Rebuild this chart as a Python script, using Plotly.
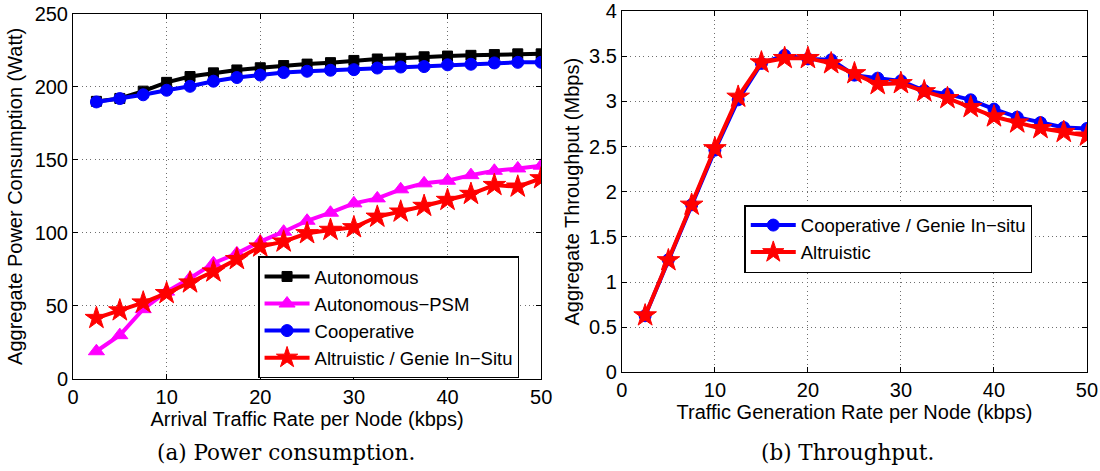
import plotly.graph_objects as go

# Traffic rate per node (kbps)
rate = [2.5, 5, 7.5, 10, 12.5, 15, 17.5, 20, 22.5, 25,
        27.5, 30, 32.5, 35, 37.5, 40, 42.5, 45, 47.5, 50]

# (a) Aggregate power consumption (Watt)
power_autonomous = [190, 192, 197, 203, 207, 209.5, 211.5, 213, 214.5, 215.5,
                    216.5, 218, 219, 219.5, 220.5, 221, 221.5, 222, 222.5, 222.5]
power_autonomous_psm = [19, 30, 47.8, 59.8, 69, 79.2, 86, 94, 100.8, 108.3,
                        113.8, 120.2, 123.6, 129.8, 133.9, 135.7, 139.5, 142.5, 144.1, 146]
power_cooperative = [189.6, 191.9, 194.5, 197.6, 200.3, 203.8, 206.3, 208, 209.7, 210.6,
                     211.3, 211.7, 212.8, 213.5, 213.8, 215, 215.4, 216.3, 216.7, 216.7]
power_altruistic = [41.7, 46.9, 52.3, 58.7, 66, 73.5, 82, 90.6, 94, 99.7,
                    102, 103.8, 111, 114.5, 118.4, 122.5, 126.6, 132.7, 131.6, 137.3]

# (b) Aggregate throughput (Mbps)
tp_cooperative = [0.627, 1.247, 1.855, 2.46, 3.017, 3.42, 3.51, 3.47, 3.46, 3.29,
                  3.257, 3.227, 3.12, 3.08, 3.017, 2.914, 2.825, 2.765, 2.71, 2.70]
tp_altruistic = [0.63, 1.24, 1.855, 2.48, 3.05, 3.43, 3.478, 3.478, 3.42, 3.31,
                 3.19, 3.20, 3.11, 3.035, 2.936, 2.832, 2.765, 2.703, 2.66, 2.62]

SANS = "Liberation Sans, Arial, Helvetica, sans-serif"
SERIF = "DejaVu Serif, serif"
FS = 20
LEG_FS = 18.5
LW = 4

fig = go.Figure()


def add(x, y, name, color, symbol, size, xa, ya, legend):
    fig.add_trace(go.Scatter(
        x=x, y=y, name=name, mode="lines+markers",
        line=dict(color=color, width=LW),
        marker=dict(symbol=symbol, size=size, color=color,
                    line=dict(color=color, width=1)),
        xaxis=xa, yaxis=ya, legend=legend,
    ))


add(rate, power_autonomous, "Autonomous", "#000000", "square", 10, "x", "y", "legend")
add(rate, power_autonomous_psm, "Autonomous\u2212PSM", "#ff00ff", "triangle-up", 14, "x", "y", "legend")
add(rate, power_cooperative, "Cooperative", "#0000ff", "circle", 12, "x", "y", "legend")
add(rate, power_altruistic, "Altruistic / Genie In\u2212Situ", "#ff0000", "star", 17, "x", "y", "legend")

add(rate, tp_cooperative, "Cooperative / Genie In\u2212situ", "#0000ff", "circle", 12, "x2", "y2", "legend2")
add(rate, tp_altruistic, "Altruistic", "#ff0000", "star", 17, "x2", "y2", "legend2")

axis_common = dict(
    automargin=False,
    showline=True, linecolor="black", linewidth=1, mirror="ticks",
    ticks="inside", ticklen=5, tickcolor="black", tickwidth=1,
    showgrid=True, gridcolor="#6e6e6e", gridwidth=1, griddash="1px,3.3px",
    zeroline=False, tickfont=dict(family=SANS, size=FS, color="black"),
)

legend_common = dict(
    xanchor="left", yanchor="top",
    bgcolor="white", bordercolor="black", borderwidth=1.5,
    font=dict(family=SANS, size=LEG_FS, color="black"),
    tracegroupgap=0, itemwidth=45,
)

fig.update_layout(
    width=1100, height=471,
    margin=dict(l=73, r=13.3, t=11, b=91.7),
    paper_bgcolor="white", plot_bgcolor="white",
    font=dict(family=SANS, size=FS, color="black"),
    xaxis=dict(axis_common, domain=[0, 0.4617], range=[0, 50], dtick=10,
               anchor="y",
               title=dict(text="Arrival Traffic Rate per Node (kbps)", standoff=2,
                          font=dict(family=SANS, size=FS))),
    yaxis=dict(axis_common, domain=[0, 0.9927], range=[0, 250], dtick=50,
               anchor="x",
               title=dict(text="Aggregate Power Consumption (Watt)", standoff=6,
                          font=dict(family=SANS, size=FS))),
    xaxis2=dict(axis_common, domain=[0.5413, 1], range=[0, 50], dtick=10,
                anchor="y2",
                title=dict(text="Traffic Generation Rate per Node (kbps)", standoff=2,
                           font=dict(family=SANS, size=FS))),
    yaxis2=dict(axis_common, domain=[0.0179, 1], range=[0, 4], dtick=0.5,
                anchor="x2",
                title=dict(text="Aggregate Throughput (Mbps)", standoff=4,
                           font=dict(family=SANS, size=FS))),
    legend=dict(legend_common, x=0.1825, y=0.333),
    legend2=dict(legend_common, x=0.662, y=0.4727),
    showlegend=True,
)

fig.add_annotation(text="(a) Power consumption.", xref="paper", yref="paper",
                   x=0.2099, y=-0.2007, showarrow=False,
                   xanchor="center", yanchor="middle",
                   font=dict(family=SERIF, size=21.5, color="black"))
fig.add_annotation(text="(b) Throughput.", xref="paper", yref="paper",
                   x=0.764, y=-0.2007, showarrow=False,
                   xanchor="center", yanchor="middle",
                   font=dict(family=SERIF, size=21.5, color="black"))

fig.write_html("out.html")
